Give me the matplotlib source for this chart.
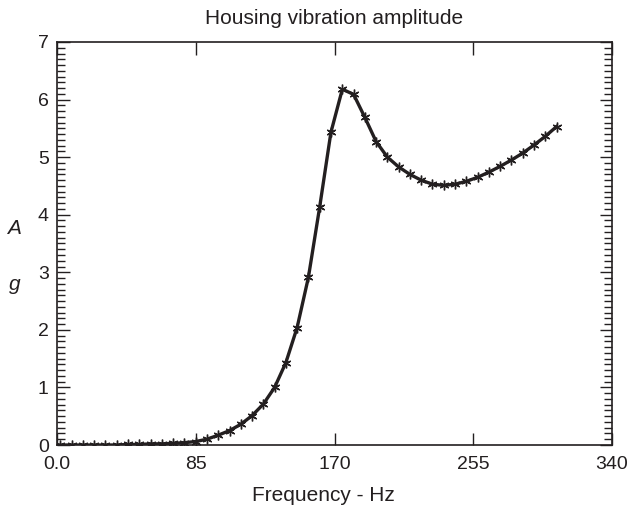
import matplotlib.pyplot as plt
from matplotlib.ticker import MultipleLocator

plt.rcParams['font.family'] = ['Liberation Sans', 'DejaVu Sans']

# Frequency (Hz) of each measured point and the amplitude (g) there.
frequency = [2.0, 8.9, 15.8, 22.7, 29.6, 36.6, 43.5, 50.4, 57.3, 64.2,
             71.1, 78.0, 84.9, 91.8, 98.7, 105.7, 112.6, 119.5, 126.4, 133.3,
             140.2, 147.1, 154.0, 160.9, 167.8, 174.8, 181.7, 188.6, 195.5, 202.4,
             209.3, 216.2, 223.1, 230.0, 236.9, 243.9, 250.8, 257.7, 264.6, 271.5,
             278.4, 285.3, 292.2, 299.1, 306.0]
amplitude = [0.0, 0.0, 0.0, 0.0, 0.0, 0.0, 0.01, 0.01, 0.02, 0.02,
             0.03, 0.04, 0.06, 0.10, 0.17, 0.25, 0.36, 0.51, 0.71, 1.00,
             1.43, 2.04, 2.91, 4.13, 5.43, 6.18, 6.09, 5.69, 5.27, 5.00,
             4.83, 4.70, 4.60, 4.53, 4.51, 4.53, 4.58, 4.65, 4.74, 4.84,
             4.95, 5.07, 5.21, 5.36, 5.53]

x_ticks = [0, 85, 170, 255, 340]
x_tick_labels = ["0.0", "85", "170", "255", "340"]
y_ticks = [0, 1, 2, 3, 4, 5, 6, 7]

ink = "#231f20"

fig = plt.figure(figsize=(6.29, 5.11), dpi=100)
ax = fig.add_axes([57 / 629, 1 - 445 / 511, 555 / 629, 403 / 511])

ax.plot(frequency, amplitude, color=ink, linewidth=2.4, marker=(6, 2, 0),
        markersize=7, markeredgewidth=1.0, markeredgecolor=ink)

ax.set_xlim(0, 340)
ax.set_ylim(0, 7)
ax.set_xticks(x_ticks)
ax.set_xticklabels(x_tick_labels)
ax.set_yticks(y_ticks)
ax.yaxis.set_minor_locator(MultipleLocator(0.1))

ax.tick_params(axis="x", which="major", direction="in", top=True, bottom=True,
               length=9, width=1, pad=8, labelsize=14, colors=ink)
ax.tick_params(axis="y", which="major", direction="in", left=True, right=True,
               length=9, width=1, pad=6, labelsize=14, colors=ink)
ax.tick_params(axis="y", which="minor", direction="in", left=True, right=True,
               length=5.5, width=1, colors=ink)

for spine in ax.spines.values():
    spine.set_linewidth(1.2)
    spine.set_color(ink)

ax.set_title("Housing vibration amplitude", fontsize=15, color=ink, pad=13)
fig.text(323 / 629, 1 - 495 / 511, "Frequency - Hz", fontsize=15,
         color=ink, ha="center", va="center")
fig.text(14 / 629, 1 - 228 / 511, "A", fontsize=15, style="italic",
         color=ink, ha="center", va="center")
fig.text(15 / 629, 1 - 284 / 511, "g", fontsize=15, style="italic",
         color=ink, ha="center", va="center")

fig.savefig("out.png", dpi=100)
